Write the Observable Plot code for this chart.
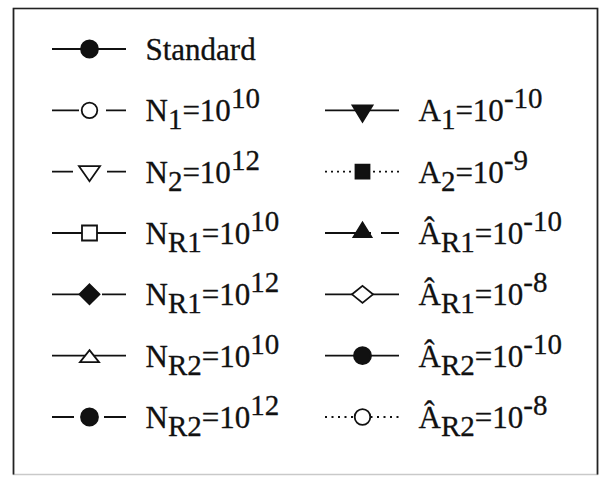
<!DOCTYPE html>
<html>
<head>
<meta charset="utf-8">
<script src="https://cdn.jsdelivr.net/npm/d3@7"></script>
<script src="https://cdn.jsdelivr.net/npm/@observablehq/plot@0.6"></script>
<style>
  body { margin: 0; background: #fff; }
</style>
</head>
<body>
<div id="chart"></div>
<script>
// Legend entries: label parts (base, subscript, exponent of 10)
const bases   = ["Standard", "N", "N", "N", "N", "N", "N", "A", "A", "Â", "Â", "Â", "Â"];
const subs    = ["", "1", "2", "R1", "R1", "R2", "R2", "1", "2", "R1", "R1", "R2", "R2"];
const exps    = ["", "10", "12", "10", "12", "10", "12", "-10", "-9", "-10", "-8", "-10", "-8"];
// Where each entry sits in the two-column legend
const columns = [0, 0, 0, 0, 0, 0, 0, 1, 1, 1, 1, 1, 1];
const rows    = [0, 1, 2, 3, 4, 5, 6, 1, 2, 3, 4, 5, 6];
// Swatch: marker shape, filled or open, and line dash pattern
const markers = ["dot", "ring", "triDown", "square", "diamond", "triUp", "dot",
                 "triDownSolid", "squareSolid", "triUpSolid", "diamondWide", "dot", "ring"];
const filled  = [true, false, false, false, true, false, true, true, true, true, false, true, false];
const dashes  = ["none", "27,27", "21,34", "none", "28,22", "none", "22,30",
                 "none", "2,4", "46,10", "none", "none", "2,4.5"];

const W = 600, H = 477;
const M = {top: 8, right: 3, bottom: 3, left: 13};

// Custom marker shapes, given in pixels for r = 10
function poly(points) {
  return {
    draw(context, size) {
      const k = Math.sqrt(size / Math.PI) / 10;
      points.forEach(([x, y], j) => j ? context.lineTo(x * k, y * k) : context.moveTo(x * k, y * k));
      context.closePath();
    }
  };
}
function round(radius) {
  return {
    draw(context, size) {
      const k = Math.sqrt(size / Math.PI) / 10;
      context.moveTo(radius * k, 0);
      context.arc(0, 0, radius * k, 0, 2 * Math.PI);
    }
  };
}
const symbols = {
  dot: round(8.5),
  ring: round(7.8),
  triDown: poly([[-10.5, -5.5], [10.5, -5.5], [0, 9.5]]),
  triDownSolid: poly([[-10, -5], [10, -5], [0, 11.5]]),
  triUp: poly([[0, -5.5], [9.5, 6.5], [-9.5, 6.5]]),
  triUpSolid: poly([[0, -10.5], [9, 4], [-9, 4]]),
  square: poly([[-7.5, -7.5], [7.5, -7.5], [7.5, 7.5], [-7.5, 7.5]]),
  squareSolid: poly([[-7, -7], [7, -7], [7, 7], [-7, 7]]),
  diamond: poly([[0, -10], [10, 0], [0, 10], [-10, 0]]),
  diamondWide: poly([[0, -8.5], [10.5, 0], [0, 8.5], [-10.5, 0]])
};

const entries = bases.map((b, i) => ({i, col: columns[i], row: rows[i]}));
const half = 37 / 273; // swatch half-length in column units
const ink = "#111";

const fw = W - M.left - M.right, fh = H - M.top - M.bottom;

const svg = Plot.plot({
  width: W,
  height: H,
  marginTop: M.top,
  marginRight: M.right,
  marginBottom: M.bottom,
  marginLeft: M.left,
  style: {background: "#fff"},
  x: {domain: [0, 1], range: [89, 362], axis: null},
  y: {domain: [0, 6], range: [48.5, 416.5], axis: null},
  marks: [
    Plot.frame({stroke: "#c9c9c9", strokeWidth: 1.5}),
    Plot.frame({stroke: "#222", strokeWidth: 1.7, strokeDasharray: `${fw + fh},${fw},${fh}`}),
    ...entries.map(e => Plot.ruleY([e], {
      y: "row",
      x1: d => d.col - half,
      x2: d => d.col + half,
      stroke: ink,
      strokeWidth: 1.8,
      strokeDasharray: dashes[e.i]
    })),
    ...entries.map(e => Plot.dot([e], {
      x: "col",
      y: "row",
      r: 10,
      symbol: symbols[markers[e.i]],
      fill: filled[e.i] ? ink : "#fff",
      stroke: ink,
      strokeWidth: 1.8
    })),
    Plot.text(entries, {
      x: "col",
      y: "row",
      text: d => bases[d.i],
      dx: 56,
      dy: 11,
      textAnchor: "start",
      lineAnchor: "bottom",
      fontSize: 31,
      fontFamily: "Liberation Serif, Times New Roman, serif",
      fill: ink,
      stroke: ink,
      strokeWidth: 0.3
    })
  ]
});

// Typeset subscripts and exponents inside each label
const ns = "http://www.w3.org/2000/svg";
svg.querySelectorAll('g[aria-label="text"] text').forEach((t, k) => {
  const i = entries[k].i;
  if (!subs[i]) return;
  t.textContent = "";
  const span = (str, size, dy) => {
    const s = document.createElementNS(ns, "tspan");
    s.textContent = str;
    if (size) s.setAttribute("font-size", size);
    if (dy) s.setAttribute("dy", dy);
    t.appendChild(s);
  };
  span(bases[i]);
  span(subs[i], 29, 8);
  span("=10", null, -8);
  span(exps[i], 29, -13);
});

document.getElementById("chart").appendChild(svg);
</script>
</body>
</html>
